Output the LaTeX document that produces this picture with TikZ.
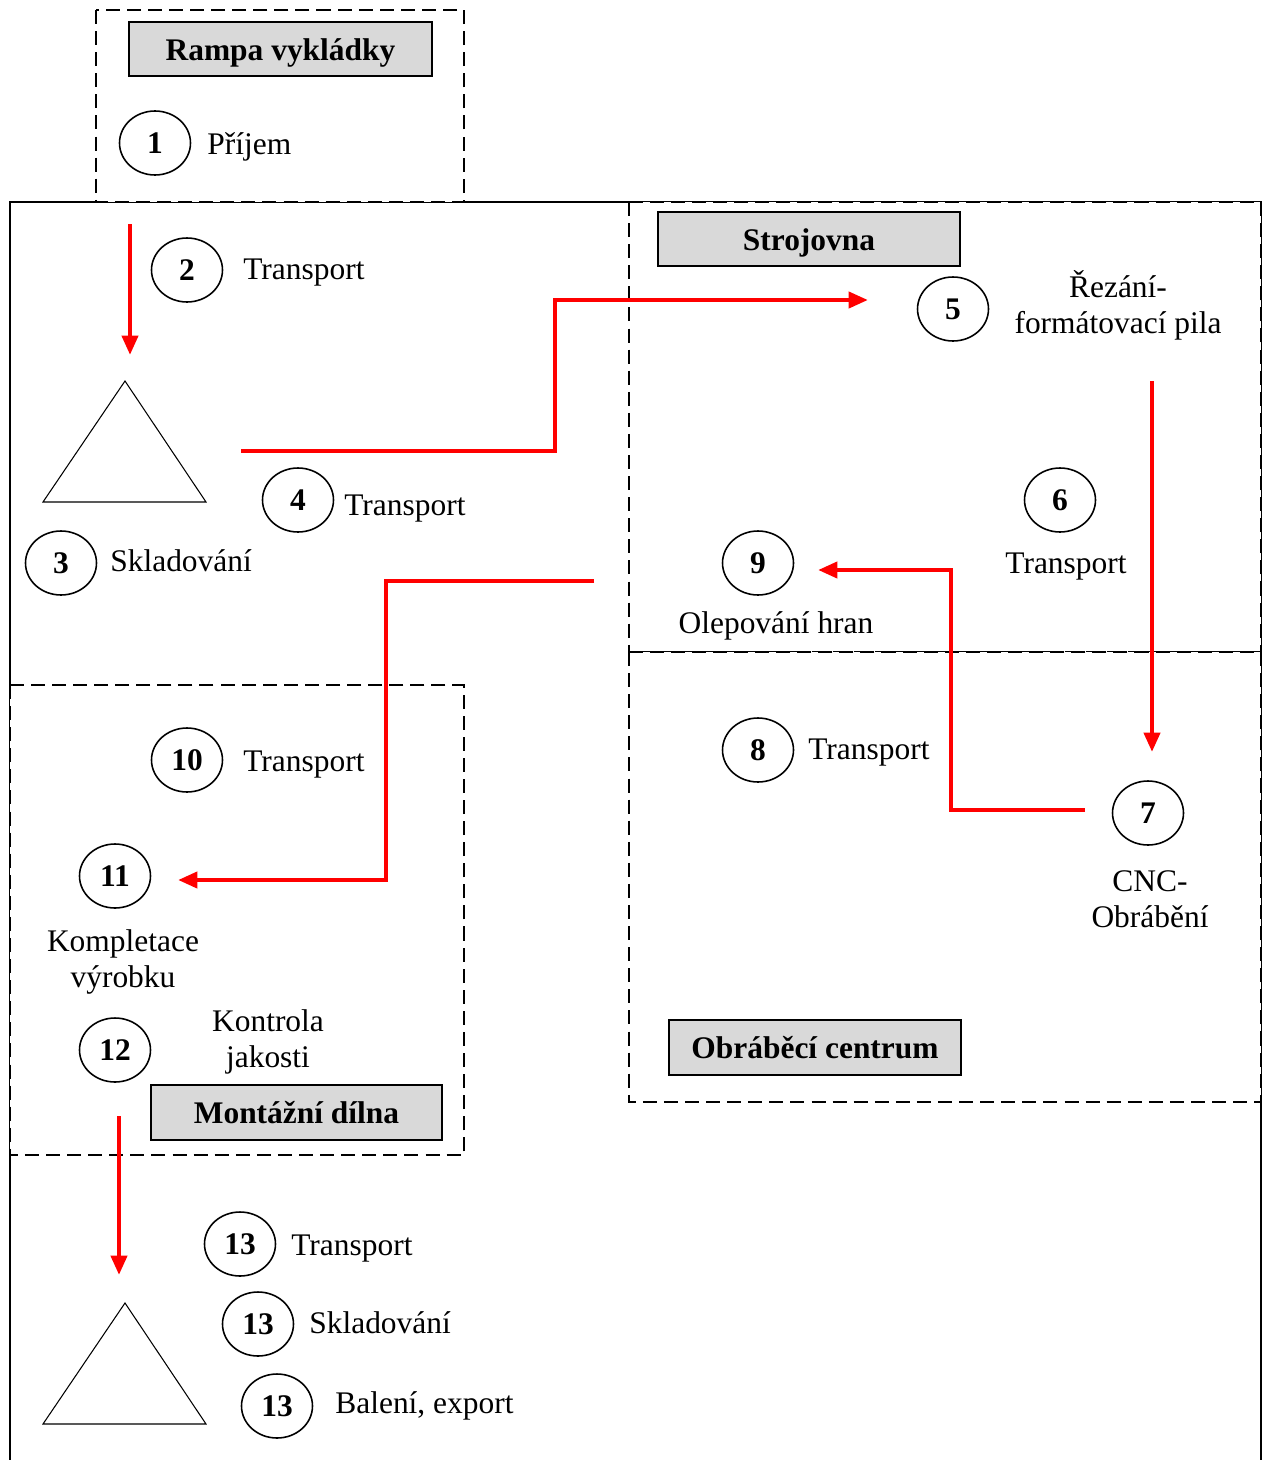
\documentclass[tikz,border=0pt]{standalone}
\usepackage{fontspec}
\setmainfont{Liberation Serif}
\usetikzlibrary{shapes.geometric,arrows.meta}
\definecolor{boxgray}{HTML}{D9D9D9}
\definecolor{flowred}{HTML}{FF0000}
\tikzset{
  num/.style={draw,ellipse,line width=0.9pt,minimum width=1.42cm,minimum height=1.28cm,inner sep=0pt,font=\fontsize{17.9}{20.5}\selectfont\bfseries},
  txt/.style={inner sep=0pt,align=center,font=\fontsize{17.9}{20.5}\selectfont},
  tag/.style={draw,line width=1.1pt,fill=boxgray,inner sep=0pt,minimum height=1.09cm,text height=1.4em,text depth=0.1em,font=\fontsize{17.9}{20.5}\selectfont\bfseries},
  area/.style={draw,dash pattern=on 8pt off 4pt,line width=0.8pt,fill=white},
  flow/.style={flowred,line width=2.5pt,-{Triangle[length=11pt,width=9pt]}},
  stock/.style={line width=0.6pt}
}
\begin{document}
\begin{tikzpicture}[x=0.02cm,y=-0.02cm]
\useasboundingbox (0,0) rectangle (1266,1460);

\draw[line width=0.8pt](10,1460)--(10,202)--(1261,202)--(1261,1460);

\draw[area](96,10) rectangle (464,202);
\draw[area](629,202) rectangle (1261,652);
\draw[area](629,652) rectangle (1261,1102);
\draw[area](10,685) rectangle (464,1155);

\node[tag,minimum width=6.06cm] (rampa) at (280.5,49) {Rampa vykládky};
\node[tag,minimum width=6.04cm] (strojovna) at (809,239) {Strojovna};
\node[tag,minimum width=5.84cm] (centrum) at (815,1047.5) {Obráběcí centrum};
\node[tag,minimum width=5.82cm] (dilna) at (296.5,1112.5) {Montážní dílna};

\draw[stock](125,381)--(206,502)--(43,502)--cycle;
\draw[stock](125,1303)--(206,1424)--(43,1424)--cycle;

\node[num] (n1) at (155,143) {1};
\node[num] (n2) at (187,270) {2};
\node[num] (n3) at (61,563) {3};
\node[num] (n4) at (298,500) {4};
\node[num] (n5) at (953,309) {5};
\node[num] (n6) at (1060,500) {6};
\node[num] (n7) at (1148,813) {7};
\node[num] (n8) at (758,750) {8};
\node[num] (n9) at (758,563) {9};
\node[num] (n10) at (187,760) {10};
\node[num] (n11) at (115,876) {11};
\node[num] (n12) at (115,1050) {12};
\node[num] (n13a) at (240,1244) {13};
\node[num] (n13b) at (258,1324) {13};
\node[num] (n13c) at (277,1406) {13};

\node[txt,anchor=base west] (t1) at (207,154) {Příjem};
\node[txt,anchor=base west] (t2) at (243,279) {Transport};
\node[txt,anchor=base west] (t3) at (110,571) {Skladování};
\node[txt,anchor=base west] (t4) at (344,515) {Transport};
\node[txt] (t5) at (1118,305) {Řezání-\\formátovací pila};
\node[txt] (t6) at (1066,567) {Transport};
\node[txt] (t7) at (1150,899) {CNC-\\Obrábění};
\node[txt,anchor=base west] (t8) at (808,759) {Transport};
\node[txt] (t9) at (776,626) {Olepování hran};
\node[txt,anchor=base west] (t10) at (243,771) {Transport};
\node[txt] (t11) at (123,962) {Kompletace\\výrobku};
\node[txt] (t12) at (268,1042) {Kontrola\\jakosti};
\node[txt,anchor=base west] (t13a) at (291,1255) {Transport};
\node[txt,anchor=base west] (t13b) at (309,1333) {Skladování};
\node[txt,anchor=base west] (t13c) at (335,1413) {Balení, export};

\coordinate (a2s) at (130,224);
\coordinate (a2e) at (130,355);
\coordinate (a4s) at (241,451);
\coordinate (a4e) at (868,300);
\coordinate (a6s) at (1152,381);
\coordinate (a6e) at (1152,752);
\coordinate (a8s) at (1085,810);
\coordinate (a8e) at (818,570);
\coordinate (a10s) at (594,581);
\coordinate (a10e) at (178,880);
\coordinate (a13s) at (119,1116);
\coordinate (a13e) at (119,1275);

\draw[flow](a2s)--(a2e);
\draw[flow](a4s)-|(555,300)--(a4e);
\draw[flow](a6s)--(a6e);
\draw[flow](a8s)-|(951,570)--(a8e);
\draw[flow](a10s)-|(386,880)--(a10e);
\draw[flow](a13s)--(a13e);

\end{tikzpicture}
\end{document}
